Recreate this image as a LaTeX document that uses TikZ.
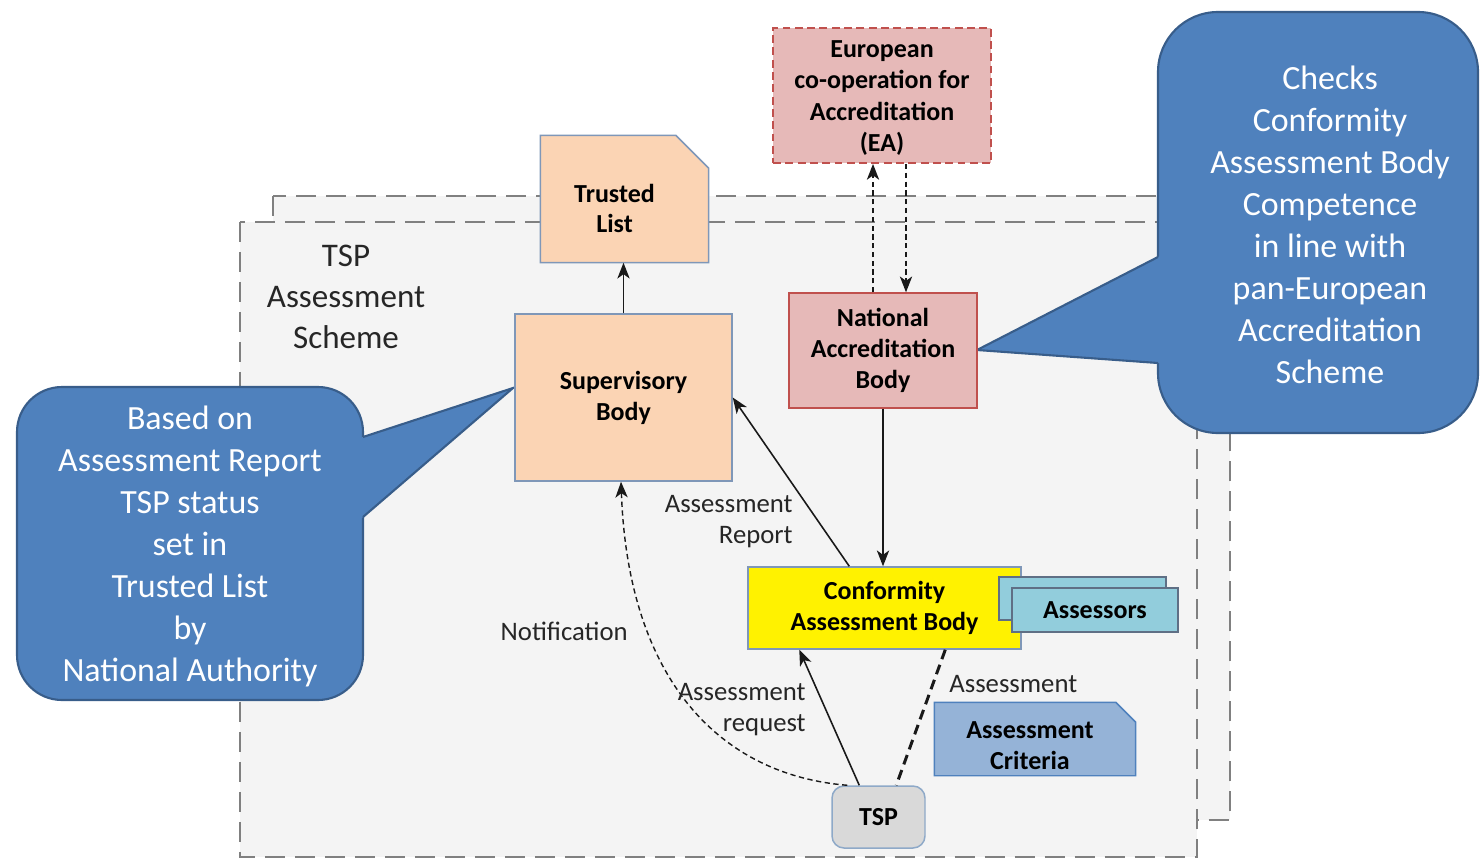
\documentclass[tikz,border=0pt]{standalone}
\usepackage{fontspec}
\setmainfont{Carlito}
\usetikzlibrary{arrows.meta,calc}
\definecolor{peach}{HTML}{FBD4B4}
\definecolor{pinkbox}{HTML}{E6B9B8}
\definecolor{redline}{HTML}{C0504D}
\definecolor{boxline}{HTML}{7F97B8}
\definecolor{assfill}{HTML}{92CDDC}
\definecolor{assline}{HTML}{5F6F85}
\definecolor{critfill}{HTML}{95B3D7}
\definecolor{critline}{HTML}{4F81BD}
\definecolor{tspfill}{HTML}{D9D9D9}
\definecolor{tspline}{HTML}{8EA9C8}
\definecolor{callfill}{HTML}{4F81BD}
\definecolor{callline}{HTML}{385D8A}
\definecolor{framefill}{HTML}{F4F4F4}
\definecolor{frameline}{HTML}{808080}
\definecolor{labeltext}{HTML}{262626}
\tikzset{
  boxtext/.style={font=\fontsize{14.8}{17.6}\selectfont\bfseries, align=center, text=black, inner sep=0pt},
  plainbox/.style={inner sep=0pt, line width=0.85pt},
  lbl/.style={font=\fontsize{15.2}{17.6}\selectfont, text=labeltext, inner sep=0pt},
  schemetext/.style={font=\fontsize{18.8}{23.3}\selectfont, text=labeltext, align=center, inner sep=0pt},
  tspframe/.style={draw=frameline, fill=framefill, line width=1.4pt, dash pattern=on 0.4cm off 0.2cm},
  arr/.style={-{Stealth[length=9pt,width=7pt,inset=2.5pt]}, line width=0.9pt, draw=black!90},
  smalldash/.style={dash pattern=on 3pt off 2pt, line width=0.8pt},
  bubble/.style={fill=callfill, draw=callline, line width=1.2pt},
  calltext/.style={font=\fontsize{19.3}{23.9}\selectfont, text=white, align=center, inner sep=0pt},
}
\begin{document}
\begin{tikzpicture}[x=0.02cm,y=-0.02cm]
\useasboundingbox (0,0) rectangle (1481,859);
\fill[white] (0,0) rectangle (1481,859);

% scheme frames
\draw[tspframe] (273,196) rectangle (1230,820);
\draw[tspframe] (240,222) rectangle (1197,857);
\node[schemetext] (scheme) at (346,296.5) {TSP\\Assessment\\Scheme};

% left callout
\draw[bubble, rounded corners=0.9cm] (17,387) rectangle (363,700);
\fill[callfill] (355,439.6) -- (513,388) -- (355,523.9) -- cycle;
\draw[callline, line width=1.2pt] (363,437) -- (513,388) -- (363,517);
\node[calltext] (lnote) at (190,546) {Based on\\Assessment Report\\TSP status\\set in\\Trusted List\\by\\National Authority};

% right callout
\draw[bubble, rounded corners=1.2cm] (1158,12) rectangle (1478,433);
\fill[callfill] (1166,252.9) -- (977,350) -- (1166,363.6) -- cycle;
\draw[callline, line width=1.2pt] (1158,257) -- (977,350) -- (1158,363);
\node[calltext] (rnote) at (1330,225) {Checks\\Conformity\\Assessment Body\\Competence\\in line with\\pan-European\\Accreditation\\Scheme};

% EA
\node[boxtext, draw=redline, fill=pinkbox, line width=1.1pt, dash pattern=on 4.5pt off 2.5pt,
      minimum width=4.36cm, minimum height=2.7cm] (ea) at (882,95.5) {};
\node[boxtext, font=\fontsize{14.8}{18}\selectfont\bfseries] (eatext) at (882,98) {European\\co-operation for\\Accreditation\\(EA)};

% Trusted list
\node[plainbox, minimum width=3.34cm, minimum height=2.52cm] (tl) at (624.5,199) {};
\draw[fill=peach, draw=boxline, line width=0.85pt] (tl.south west) -- (tl.north west) -- ($(tl.north east)+(-33,0)$)
      -- ($(tl.north east)+(0,33)$) -- (tl.south east) -- cycle;
\node[boxtext] (tltext) at ($(tl.center)+(-10,9.5)$) {Trusted\\List};

% Supervisory body
\node[boxtext, plainbox, draw=boxline, fill=peach, minimum width=4.34cm, minimum height=3.34cm] (sb) at (623.5,397.5) {Supervisory\\Body};

% National accreditation body
\node[boxtext, plainbox, draw=redline, fill=pinkbox, minimum width=3.76cm, minimum height=2.3cm] (nab) at (883,350.5) {National\\Accreditation\\Body};

% Conformity assessment body
\node[boxtext, plainbox, draw=boxline, fill=yellow, minimum width=5.46cm, minimum height=1.64cm] (cab) at (884.5,608) {Conformity\\Assessment Body};

% Assessors
\node[plainbox, draw=assline, fill=assfill, minimum width=3.34cm, minimum height=0.86cm] (assb) at (1082.5,598.5) {};
\node[boxtext, plainbox, draw=assline, fill=assfill, minimum width=3.32cm, minimum height=0.88cm] (ass) at (1095,610) {Assessors};

% Assessment criteria
\node[plainbox, minimum width=4cm, minimum height=1.44cm] (crit) at (1035,739) {};
\draw[fill=critfill, draw=critline, line width=0.85pt] (crit.south west) -- (crit.north west) -- ($(crit.north east)+(-20,0)$)
      -- ($(crit.north east)+(0,20)$) -- (crit.south east) -- cycle;
\node[boxtext] (crittext) at ($(crit.center)+(-5,7)$) {Assessment\\Criteria};

% TSP
\node[boxtext, plainbox, draw=tspline, fill=tspfill, rounded corners=0.24cm, minimum width=1.86cm, minimum height=1.24cm] (tsp) at (878.5,817) {TSP};

% connector end points
\coordinate (nabup) at ($(nab.north)+(-10,0)$);
\coordinate (eadown) at ($(ea.south)+(24,0)$);

% connectors
\draw[arr] (sb.north) -- (sb.north |- tl.south);
\draw[arr, smalldash] (nabup) -- (nabup |- ea.south);
\draw[arr, smalldash] (eadown) -- (eadown |- nab.north);
\draw[arr] (nab.south) -- (nab.south |- cab.north);
\draw[arr] ($(cab.north west)+(102,0)$) -- (sb.east);
\draw[arr] ($(tsp.north west)+(28,0)$) -- ($(cab.south west)+(52,0)$);
\draw[arr, smalldash] ($(tsp.north west)+(16,0)$) .. controls (720,775) and (628,680) .. ($(sb.south)+(-2.5,0)$);
\draw[line width=1.7pt, dash pattern=on 5.7pt off 3.4pt, black!90] ($(cab.south west)+(198,0)$) -- ($(tsp.north west)+(65,0)$);

% labels
\node[lbl, align=right, anchor=east] (lrep) at (793,522) {Assessment\\Report};
\node[lbl, align=right, anchor=east] (lreq) at (806,709.5) {Assessment\\request};
\node[lbl, anchor=east] (lnot) at (628,631) {Notification};
\node[lbl, anchor=west] (lass) at (949,684) {Assessment};
\end{tikzpicture}
\end{document}
